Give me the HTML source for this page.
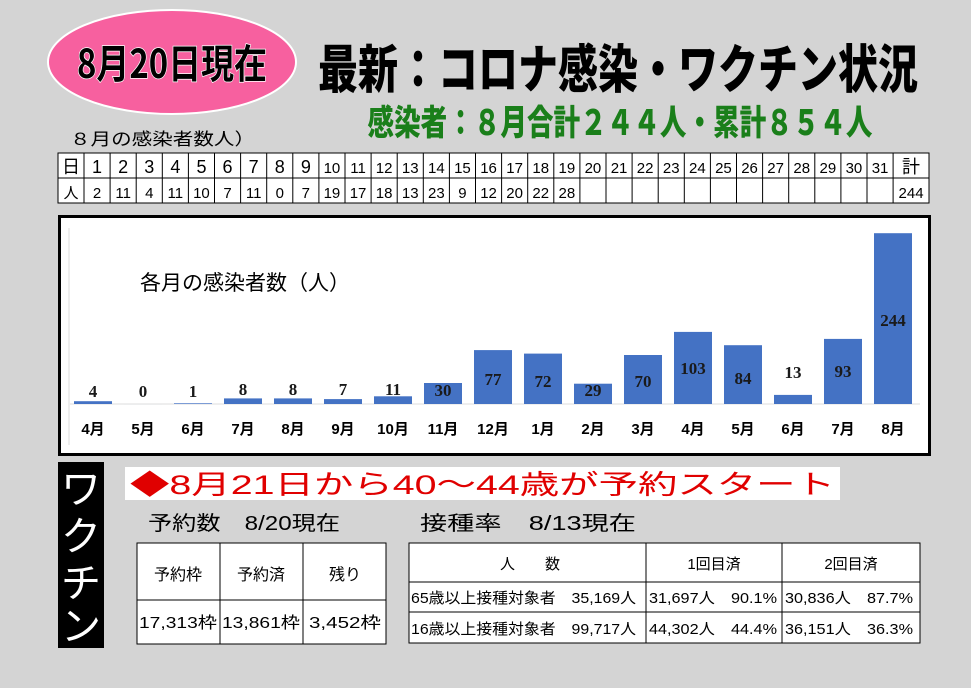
<!DOCTYPE html>
<html><head><meta charset="utf-8"><style>
body{margin:0;background:#d4d4d4;}
svg{display:block}
text{font-family:"Liberation Sans","Noto Sans CJK JP",sans-serif;}
</style></head><body>
<svg width="971" height="688" viewBox="0 0 971 688" xmlns="http://www.w3.org/2000/svg">
<rect width="971" height="688" fill="#d4d4d4"/>
<ellipse cx="172" cy="62" rx="124" ry="52" fill="#f7609f" stroke="#fff" stroke-width="2"/>
<text x="172" y="78" text-anchor="middle" font-size="40" font-weight="bold" fill="#000" stroke="#fff" stroke-width="1.5" paint-order="stroke" textLength="190" lengthAdjust="spacingAndGlyphs" style="font-family:'Noto Sans CJK JP',sans-serif">8月20日現在</text>
<text x="618" y="88" text-anchor="middle" font-size="52" font-weight="900" fill="#000" textLength="600" lengthAdjust="spacingAndGlyphs" style="font-family:'Noto Sans CJK JP',sans-serif">最新：コロナ感染・ワクチン状況</text>
<text x="620" y="135" text-anchor="middle" font-size="35" font-weight="900" fill="#1a7f1a" textLength="505" lengthAdjust="spacingAndGlyphs" style="font-family:'Noto Sans CJK JP',sans-serif">感染者：８月合計２４４人・累計８５４人</text>
<text x="70" y="145" font-size="17" fill="#000" textLength="185" lengthAdjust="spacingAndGlyphs">８月の感染者数人）</text>
<g id="daytable">
<rect x="58" y="153" width="871" height="50" fill="#fff" stroke="#000" stroke-width="1"/>
<line x1="58" y1="178" x2="929" y2="178" stroke="#000"/>
</g>
<g stroke="#000" stroke-width="1" id="vlines"></g>
<g id="daytext" font-size="16" fill="#000"></g>
<rect x="59.5" y="216.5" width="870" height="238" fill="#fff" stroke="#000" stroke-width="3"/>
<line x1="69" y1="228" x2="69" y2="445" stroke="#ddd"/>
<line x1="70" y1="404" x2="920" y2="404" stroke="#ddd"/>
<text x="140" y="290" font-size="21" fill="#000">各月の感染者数（人）</text>
<g id="bars"></g>
<rect x="58" y="462" width="46" height="186" fill="#000"/>
<g font-size="40" fill="#fff" text-anchor="middle">
<text x="81" y="503">ワ</text><text x="81" y="550">ク</text><text x="81" y="597">チ</text><text x="81" y="640">ン</text>
</g>
<rect x="125" y="467" width="715" height="33" fill="#fff"/>
<text x="130" y="494" font-size="27" fill="#e00000" textLength="705" lengthAdjust="spacingAndGlyphs">◆8月21日から40～44歳が予約スタート</text>
<text x="148" y="530" font-size="20" fill="#000" textLength="192" lengthAdjust="spacingAndGlyphs">予約数　8/20現在</text>
<text x="420" y="530" font-size="20" fill="#000" textLength="216" lengthAdjust="spacingAndGlyphs">接種率　8/13現在</text>
<g fill="#fff" stroke="#000">
<rect x="137" y="543" width="249" height="101"/>
<line x1="220" y1="543" x2="220" y2="644"/><line x1="303" y1="543" x2="303" y2="644"/><line x1="137" y1="600" x2="386" y2="600"/>
<rect x="409" y="543" width="511" height="100"/>
<line x1="646" y1="543" x2="646" y2="643"/><line x1="782" y1="543" x2="782" y2="643"/>
<line x1="409" y1="582" x2="920" y2="582"/><line x1="409" y1="612" x2="920" y2="612"/>
</g>
<g font-size="16" fill="#000" text-anchor="middle">
<text x="178" y="580">予約枠</text><text x="261" y="580">予約済</text><text x="345" y="580">残り</text>
<text x="178" y="628" textLength="78" lengthAdjust="spacingAndGlyphs">17,313枠</text><text x="261" y="628" textLength="78" lengthAdjust="spacingAndGlyphs">13,861枠</text><text x="345" y="628" textLength="72" lengthAdjust="spacingAndGlyphs">3,452枠</text>
</g>
<g font-size="15" fill="#000" text-anchor="middle">
<text x="530" y="569">人　　数</text><text x="714" y="569">1回目済</text><text x="851" y="569">2回目済</text>
</g>
<g font-size="15" fill="#000">
<text x="411" y="603" textLength="225" lengthAdjust="spacingAndGlyphs">65歳以上接種対象者　35,169人</text>
<text x="649" y="603" textLength="128" lengthAdjust="spacingAndGlyphs">31,697人　90.1%</text>
<text x="785" y="603" textLength="128" lengthAdjust="spacingAndGlyphs">30,836人　87.7%</text>
<text x="411" y="634" textLength="225" lengthAdjust="spacingAndGlyphs">16歳以上接種対象者　99,717人</text>
<text x="649" y="634" textLength="128" lengthAdjust="spacingAndGlyphs">44,302人　44.4%</text>
<text x="785" y="634" textLength="128" lengthAdjust="spacingAndGlyphs">36,151人　36.3%</text>
</g>
</svg>
<script>
var NS="http://www.w3.org/2000/svg";
function el(p,t,a,txt){var e=document.createElementNS(NS,t);for(var k in a)e.setAttribute(k,a[k]);if(txt!=null)e.textContent=txt;document.getElementById(p).appendChild(e);}
var xs=[58,84];for(var i=1;i<=31;i++)xs.push(84+i*26.1);xs.push(929);
for(var i=1;i<xs.length-1;i++)el("vlines","line",{x1:xs[i],y1:153,x2:xs[i],y2:203});
var vals=["",2,11,4,11,10,7,11,0,7,19,17,18,13,23,9,12,20,22,28];
for(var i=0;i<xs.length-1;i++){var cx=(xs[i]+xs[i+1])/2;var h,v;
if(i==0){h="日";v="人";}else if(i==32){h="計";v="244";}else{h=String(i);v=vals[i]!==undefined?String(vals[i]):"";}
el("daytext","text",{x:cx,y:173,"text-anchor":"middle","font-size":(i>=10&&i<=31)?15:18},h);
el("daytext","text",{x:cx,y:198,"text-anchor":"middle","font-size":15},v);}
var mv=[4,0,1,8,8,7,11,30,77,72,29,70,103,84,13,93,244];
var ml=["4月","5月","6月","7月","8月","9月","10月","11月","12月","1月","2月","3月","4月","5月","6月","7月","8月"];
var ly=[397,397,397,395,395,395,395,396,385,387,396,387,374,384,378,377,326];
for(var i=0;i<17;i++){var cx=93+50*i;var h=mv[i]*0.70;
el("bars","rect",{x:cx-19,y:404-h,width:38,height:Math.max(h,0.01),fill:"#4472c4"});
el("bars","text",{x:cx,y:ly[i],"text-anchor":"middle","font-size":17,"font-weight":"bold",fill:"#1a1a1a",style:"font-family:'Liberation Serif',serif"},String(mv[i]));
el("bars","text",{x:cx,y:434,"text-anchor":"middle","font-size":15,"font-weight":"bold",fill:"#000"},ml[i]);}
</script>
</body></html>
